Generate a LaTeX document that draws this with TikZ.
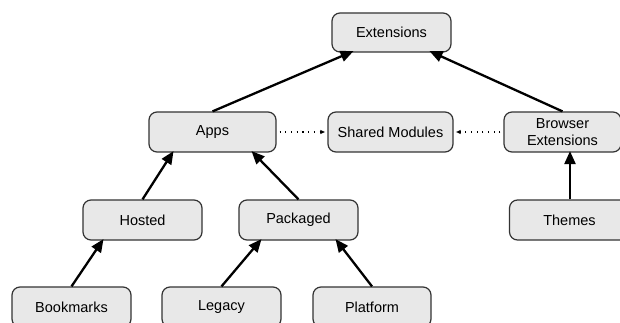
\documentclass[tikz,border=0pt]{standalone}
\usepackage{fontspec}
\setmainfont{Liberation Sans}
\usetikzlibrary{arrows.meta}
\definecolor{boxfill}{HTML}{E8E8E8}
\definecolor{boxline}{HTML}{333333}
\tikzset{
  box/.style={draw=boxline, fill=boxfill, line width=1.2pt, rounded corners=8pt,
    minimum height=40pt, inner sep=0pt, align=center,
    font=\fontsize{14.5}{17}\selectfont},
  heavy/.style={line width=2.3pt, -{Triangle[length=13pt,width=11pt]}},
  dotarrow/.style={line width=1.1pt, dash pattern=on 1.1pt off 4.6pt,
    -{Latex[length=5pt,width=4.5pt]}, shorten <=3pt},
}
\begin{document}
\begin{tikzpicture}[x=1pt,y=-1pt]
\useasboundingbox (0,0) rectangle (620,323);
\node[box, minimum width=119pt, minimum height=39pt] (ext) at (391.5,32.5) {Extensions};
\node[box, minimum width=127pt] (apps) at (212.5,132) {Apps};
\node[box, minimum width=125pt] (sm) at (390.5,132) {Shared Modules};
\node[box, minimum width=117pt] (be) at (562.5,132) {Browser\\Extensions};
\node[box, minimum width=119pt] (hosted) at (142.5,220) {Hosted};
\node[box, minimum width=119pt] (packaged) at (298.5,220) {Packaged};
\node[box, minimum width=120pt] (themes) at (569.5,220) {Themes};
\node[box, minimum width=119pt] (bookmarks) at (71.5,307) {Bookmarks};
\node[box, minimum width=119pt] (legacy) at (221.5,307) {Legacy};
\node[box, minimum width=118pt] (platform) at (372,307) {Platform};

\draw[heavy] (apps.north) -- ([xshift=-38pt,yshift=1.5pt]ext.south);
\draw[heavy] (be.north) -- ([xshift=38pt,yshift=1.5pt]ext.south);
\draw[heavy] (hosted.north) -- ([xshift=-39pt,yshift=1.5pt]apps.south);
\draw[heavy] (packaged.north) -- ([xshift=39pt,yshift=1.5pt]apps.south);
\draw[heavy] (bookmarks.north) -- ([xshift=-39pt,yshift=1.5pt]hosted.south);
\draw[heavy] (legacy.north) -- ([xshift=-37pt,yshift=1.5pt]packaged.south);
\draw[heavy] (platform.north) -- ([xshift=37pt,yshift=1.5pt]packaged.south);
\draw[heavy] ([xshift=0.5pt]themes.north) -- ([xshift=7.5pt,yshift=1.5pt]be.south);
\draw[dotarrow] (apps.east) -- ([xshift=-2pt]sm.west);
\draw[dotarrow] (be.west) -- ([xshift=2pt]sm.east);
\end{tikzpicture}
\end{document}
